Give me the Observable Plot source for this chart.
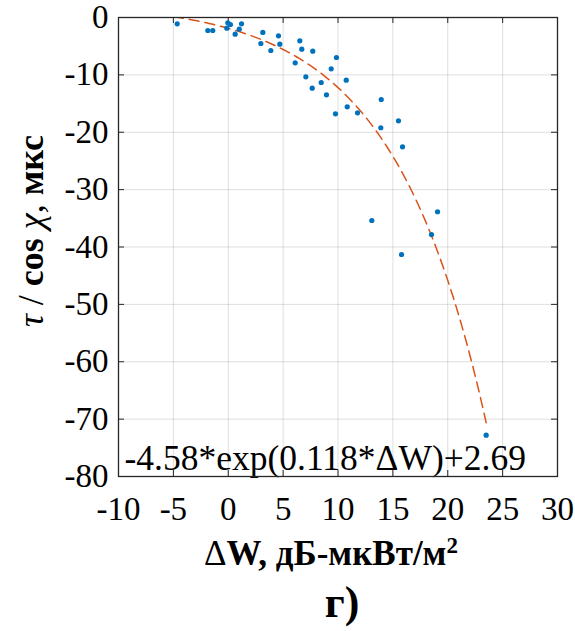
<!DOCTYPE html>
<html>
<head>
<meta charset="utf-8">
<script src="https://cdn.jsdelivr.net/npm/d3@7"></script>
<script src="https://cdn.jsdelivr.net/npm/@observablehq/plot@0.6"></script>
<style>
  html, body { margin: 0; padding: 0; background: #fff; }
  #chart { width: 575px; height: 631px; }
</style>
</head>
<body>
<div id="chart"></div>
<script>
// ΔW, dB-µW/m²
const dW = [-4.65, -1.86, -1.41, -0.04, 0.2, -0.13, 0.63, 1.0, 1.21, 3.15,
            2.97, 3.88, 4.58, 4.7, 6.52, 6.7, 6.1, 7.7, 7.07, 7.65,
            8.47, 8.95, 9.38, 9.86, 9.77, 10.75, 10.84, 11.78, 13.94, 13.9,
            15.51, 15.88, 13.08, 19.07, 18.52, 15.79, 23.5];
// τ / cos χ, µs
const tau = [-1.1, -2.27, -2.27, -0.92, -1.22, -1.86, -2.91, -2.04, -1.1, -2.61,
             -4.53, -5.75, -3.19, -4.65, -4.06, -5.52, -7.9, -5.87, -10.34, -12.32,
             -11.33, -13.47, -8.94, -6.97, -16.78, -10.93, -15.56, -16.61, -14.29, -19.22,
             -18.0, -22.54, -35.38, -33.86, -37.82, -41.31, -72.8];
const xTicks = [-10, -5, 0, 5, 10, 15, 20, 25, 30];
const yTicks = [0, -10, -20, -30, -40, -50, -60, -70, -80];
// fit shown in the chart: a*exp(b*ΔW)+c over the plotted ΔW range
const fitA = -4.58, fitB = 0.118, fitC = 2.69;
const fitRange = [-5, 23.5];
const fitLabel = "-4.58*exp(0.118*ΔW)+2.69";

const points = dW.map((x, i) => ({x, y: tau[i]}));
const fit = d3.range(fitRange[0], fitRange[1] + 0.001, 0.25).map(x => ({x, y: fitA * Math.exp(fitB * x) + fitC}));

const serif = "'Liberation Serif', 'Times New Roman', serif";
const W = 575, H = 631, mL = 118, mR = 18, mT = 17, mB = 155;
const fw = W - mL - mR, fh = H - mT - mB;

const chart = Plot.plot({
  width: W, height: H,
  marginLeft: mL, marginRight: mR, marginTop: mT, marginBottom: mB,
  style: {fontFamily: serif, background: "#fff", color: "#000"},
  x: {domain: [-10, 30]},
  y: {domain: [-80, 0]},
  marks: [
    Plot.gridX(xTicks, {stroke: "#000", strokeOpacity: 0.13, strokeWidth: 1}),
    Plot.gridY(yTicks, {stroke: "#000", strokeOpacity: 0.13, strokeWidth: 1}),
    Plot.tickX(xTicks, {x: d => d, insetTop: fh - 6, stroke: "#262626", strokeWidth: 1}),
    Plot.tickX(xTicks, {x: d => d, insetBottom: fh - 6, stroke: "#262626", strokeWidth: 1}),
    Plot.tickY(yTicks, {y: d => d, insetRight: fw - 6, stroke: "#262626", strokeWidth: 1}),
    Plot.tickY(yTicks, {y: d => d, insetLeft: fw - 6, stroke: "#262626", strokeWidth: 1}),
    Plot.axisX(xTicks, {tickSize: 0, tickPadding: 20, fontSize: 33, tickFormat: d => String(d), label: null, fill: "#000"}),
    Plot.axisY(yTicks, {tickSize: 0, tickPadding: 10, fontSize: 33, tickFormat: d => String(d), label: null, fill: "#000"}),
    Plot.line(fit, {x: "x", y: "y", stroke: "#D95319", strokeWidth: 1.5, strokeDasharray: "10,6", clip: true}),
    Plot.dot(points, {x: "x", y: "y", r: 2.6, fill: "#0072BD", stroke: "none"}),
    Plot.text([fitLabel], {text: d => d, frameAnchor: "bottom-left", dx: 6, dy: -7, textAnchor: "start", lineAnchor: "bottom", fontSize: 35.5, fill: "#000"}),
    Plot.frame({stroke: "#262626", strokeWidth: 1.3})
  ]
});
document.getElementById("chart").appendChild(chart);

const svg = d3.select(chart);
// y label
const yl = svg.append("text")
  .attr("transform", "translate(43,231) rotate(-90)")
  .attr("text-anchor", "middle")
  .attr("font-family", serif).attr("font-size", 36).attr("fill", "#000");
yl.append("tspan").attr("font-style", "italic").text("τ");
yl.append("tspan").text(" / ");
yl.append("tspan").attr("font-weight", "bold").text("cos");
yl.append("tspan").text(" ");
yl.append("tspan").attr("font-style", "italic").text("χ");
yl.append("tspan").text(", ");
yl.append("tspan").attr("font-weight", "bold").text("мкс");

// x label
const xl = svg.append("text")
  .attr("x", 331).attr("y", 565)
  .attr("text-anchor", "middle")
  .attr("font-family", serif).attr("font-size", 35).attr("fill", "#000");
xl.append("tspan").text("Δ");
xl.append("tspan").attr("font-weight", "bold").text("W, дБ-мкВт/м");
xl.append("tspan").attr("font-weight", "bold").attr("font-size", 23).attr("dy", -12).text("2");

// panel label
svg.append("text")
  .attr("x", 342).attr("y", 617)
  .attr("text-anchor", "middle")
  .attr("font-family", serif).attr("font-size", 44).attr("font-weight", "bold").attr("fill", "#000")
  .text("г)");
</script>
</body>
</html>
